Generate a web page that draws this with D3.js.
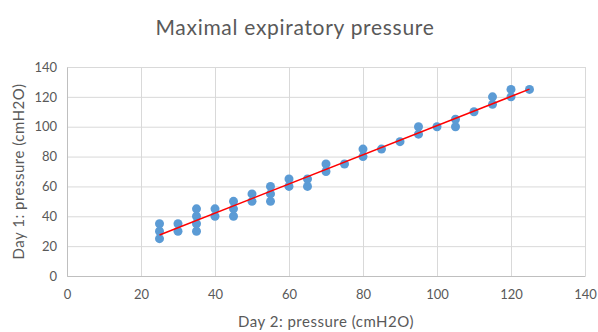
<!DOCTYPE html>
<html>
<head>
<meta charset="utf-8">
<script src="https://cdn.jsdelivr.net/npm/d3@7"></script>
<style>
  body { margin: 0; background: #fff; }
  text { font-family: Lato, "Open Sans", sans-serif; fill: #595959; }
</style>
</head>
<body>
<svg id="chart"></svg>
<script>
// Day 2 pressure (x) and Day 1 pressure (y), cmH2O
var day2 = [25, 25, 25, 30, 30, 35, 35, 35, 35, 40, 40, 45, 45, 45,
            50, 50, 55, 55, 55, 60, 60, 65, 65, 70, 70, 75, 80, 80,
            85, 90, 95, 95, 100, 105, 105, 110, 115, 115, 120, 120, 125];
var day1 = [25, 30, 35, 30, 35, 30, 35, 40, 45, 40, 45, 40, 45, 50,
            50, 55, 50, 55, 60, 60, 65, 60, 65, 70, 75, 75, 80, 85,
            85, 90, 95, 100, 100, 100, 105, 110, 115, 120, 120, 125, 125];
var ticks = [0, 20, 40, 60, 80, 100, 120, 140];

var width = 598, height = 332;
var mLeft = 67, mRight = 585, mTop = 67, mBottom = 276;

var svg = d3.select("#chart")
    .attr("width", width)
    .attr("height", height);

var x = d3.scaleLinear().domain([0, 140]).range([mLeft, mRight]);
var y = d3.scaleLinear().domain([0, 140]).range([mBottom, mTop]);

// gridlines
svg.append("g")
    .attr("transform", "translate(0," + mBottom + ")")
    .call(d3.axisBottom(x).tickValues(ticks).tickSize(-(mBottom - mTop)).tickFormat(""))
    .call(function (g) { g.select(".domain").remove(); })
    .selectAll("line").attr("stroke", "#d9d9d9");

svg.append("g")
    .attr("transform", "translate(" + mLeft + ",0)")
    .call(d3.axisLeft(y).tickValues(ticks).tickSize(-(mRight - mLeft)).tickFormat(""))
    .call(function (g) { g.select(".domain").remove(); })
    .selectAll("line").attr("stroke", "#d9d9d9");

// axes with labels
var xAxis = svg.append("g")
    .attr("transform", "translate(0," + mBottom + ")")
    .call(d3.axisBottom(x).tickValues(ticks).tickSize(0).tickPadding(14));
xAxis.select(".domain").attr("stroke", "#bfbfbf");
xAxis.selectAll("text").style("font-size", "13px").attr("fill", "#595959");

var yAxis = svg.append("g")
    .attr("transform", "translate(" + mLeft + ",0)")
    .call(d3.axisLeft(y).tickValues(ticks).tickSize(0).tickPadding(10));
yAxis.select(".domain").attr("stroke", "#bfbfbf");
yAxis.selectAll("text").style("font-size", "13px").attr("fill", "#595959");

// points
var pts = day2.map(function (d, i) { return [d, day1[i]]; });
svg.append("g").selectAll("circle")
    .data(pts)
    .enter().append("circle")
    .attr("cx", function (d) { return x(d[0]); })
    .attr("cy", function (d) { return y(d[1]); })
    .attr("r", 4.5)
    .attr("fill", "#5b9bd5");

// linear trendline (least squares)
var mx = d3.mean(day2), my = d3.mean(day1);
var slope = d3.sum(pts, function (d) { return (d[0] - mx) * (d[1] - my); }) /
            d3.sum(pts, function (d) { return (d[0] - mx) * (d[0] - mx); });
var icpt = my - slope * mx;
var xs = d3.extent(day2);
svg.append("line")
    .attr("x1", x(xs[0])).attr("y1", y(icpt + slope * xs[0]))
    .attr("x2", x(xs[1])).attr("y2", y(icpt + slope * xs[1]))
    .attr("stroke", "#ff0000")
    .attr("stroke-width", 1.5);

// titles
svg.append("text")
    .attr("x", 295).attr("y", 35)
    .attr("text-anchor", "middle")
    .style("font-size", "21px")
    .style("letter-spacing", "0.7px")
    .text("Maximal expiratory pressure");

svg.append("text")
    .attr("x", (mLeft + mRight) / 2).attr("y", 327)
    .attr("text-anchor", "middle")
    .style("font-size", "15px")
    .style("letter-spacing", "0.5px")
    .text("Day 2: pressure (cmH2O)");

svg.append("text")
    .attr("transform", "translate(24," + ((mTop + mBottom) / 2) + ") rotate(-90)")
    .attr("text-anchor", "middle")
    .style("font-size", "15px")
    .style("letter-spacing", "0.5px")
    .text("Day 1: pressure (cmH2O)");
</script>
</body>
</html>
